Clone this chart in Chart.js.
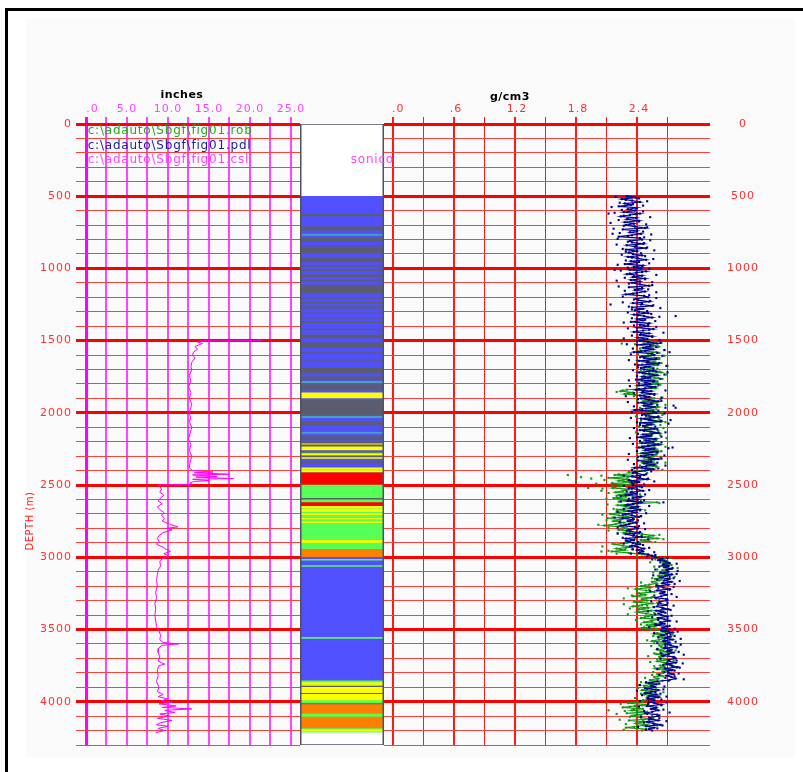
<!DOCTYPE html>
<html>
<head>
<meta charset="utf-8">
<script src="https://cdn.jsdelivr.net/npm/chart.js@4/dist/chart.umd.min.js"></script>
<style>
  body { margin: 0; width: 803px; height: 772px; overflow: hidden; position: relative; background: #fff; }
  #frame { position: absolute; left: 5px; top: 8px; width: 840px; height: 800px; border-left: 3px solid #000; border-top: 3px solid #000; }
  #panel { position: absolute; left: 26px; top: 19px; width: 769px; height: 738px; background: #fafafa; }
  canvas { position: absolute; }
</style>
</head>
<body>
<div id="frame"></div>
<div id="panel"></div>
<canvas id="leftTrack" width="312" height="670" style="left:0;top:80px"></canvas>
<canvas id="rightTrack" width="419" height="670" style="left:384px;top:80px"></canvas>
<canvas id="lithTrack" width="96" height="621" style="left:300px;top:124px"></canvas>
<script>
// depth axis (m)
const depthLabels = [0, 500, 1000, 1500, 2000, 2500, 3000, 3500, 4000];
const depthMax = 4300;

// left track: inches
const inchGrid = [0, 2.5, 5, 7.5, 10, 12.5, 15, 17.5, 20, 22.5, 25];
const inchTickValues = [0, 5, 10, 15, 20, 25];
const inchTickText = ["\u2002\u2002.0", "5.0", "10.0", "15.0", "20.0", "25.0"];

// right track: g/cm3
const gramGrid = [0, 0.3, 0.6, 0.9, 1.2, 1.5, 1.8, 2.1, 2.4, 2.7];
const gramTickValues = [0, 0.6, 1.2, 1.8, 2.4];
const gramTickText = ["\u2002.0", ".6", "1.2", "1.8", "2.4"];

// fig01.csl (sonico), inches
const cslDepth = [
  1500, 1502, 1510, 1520, 1540, 1560, 1580, 1600, 1620, 1650,
  1680, 1700, 1740, 1780, 1820, 1860, 1900, 1940, 1980, 2000,
  2030, 2060, 2100, 2140, 2180, 2220, 2260, 2300, 2340, 2380,
  2400, 2410, 2415, 2425, 2430, 2440, 2445, 2455, 2460, 2470,
  2475, 2485, 2495, 2500, 2510, 2530, 2550, 2570, 2590, 2610,
  2630, 2650, 2670, 2690, 2710, 2730, 2750, 2770, 2790, 2800,
  2810, 2830, 2850, 2870, 2890, 2910, 2930, 2950, 2960, 2975,
  2990, 3010, 3030, 3060, 3090, 3120, 3160, 3200, 3240, 3280,
  3320, 3360, 3400, 3440, 3480, 3510, 3540, 3570, 3590, 3600,
  3610, 3630, 3660, 3690, 3720, 3740, 3750, 3780, 3820, 3860,
  3900, 3930, 3950, 3965, 3980, 3995, 4005, 4015, 4030, 4040,
  4050, 4060, 4075, 4085, 4100, 4115, 4130, 4145, 4160, 4170,
  4185, 4200, 4215
];
const cslValue = [
  21.5, 14.0, 13.6, 14.2, 13.3, 13.6, 13.1, 13.0, 13.3, 12.9,
  12.8, 12.9, 12.6, 12.8, 12.5, 12.8, 12.6, 12.9, 12.7, 12.5,
  12.8, 12.6, 12.9, 12.7, 12.5, 12.8, 12.6, 12.9, 12.7, 12.6,
  13.0, 15.5, 13.2, 17.5, 13.0, 16.0, 13.4, 18.0, 13.0, 15.0,
  13.2, 12.7, 12.8, 8.8, 9.0, 9.2, 9.0, 9.5, 9.1, 8.8,
  9.3, 8.7, 9.0, 9.5, 9.2, 9.6, 9.3, 10.2, 11.2, 9.8,
  10.5, 9.4, 8.9, 8.7, 8.9, 8.6, 9.4, 9.9, 10.3, 9.5,
  10.1, 9.3, 9.0, 9.1, 8.8, 8.7, 8.6, 8.7, 8.5, 8.6,
  8.4, 8.5, 8.4, 8.5, 8.6, 8.9, 9.1, 9.0, 9.4, 11.3,
  9.2, 8.9, 8.8, 9.0, 8.8, 9.6, 8.9, 8.7, 8.8, 8.6,
  8.9, 8.7, 9.4, 8.8, 9.9, 9.2, 10.5, 8.9, 11.0, 9.3,
  12.9, 9.6, 10.8, 9.0, 10.2, 8.7, 10.5, 9.1, 8.6, 10.0,
  8.8, 9.6, 8.5
];

// fig01.pdl, g/cm3, samples every 10 m from 500 m (one row = 100 m)
const pdlStart = 500, pdlStep = 10;
const pdlValue = [
  2.30, 2.39, 2.25, 2.35, 2.43, 2.28, 2.34, 2.22, 2.40, 2.31,
  2.38, 2.27, 2.43, 2.33, 2.24, 2.39, 2.30, 2.42, 2.28, 2.37,
  2.29, 2.38, 2.48, 2.26, 2.40, 2.33, 2.44, 2.35, 2.22, 2.43,
  2.45, 2.33, 2.35, 2.46, 2.30, 2.38, 2.49, 2.29, 2.40, 2.32,
  2.36, 2.45, 2.31, 2.41, 2.49, 2.34, 2.40, 2.28, 2.46, 2.37,
  2.44, 2.33, 2.49, 2.39, 2.30, 2.45, 2.36, 2.48, 2.34, 2.43,
  2.35, 2.43, 2.52, 2.32, 2.45, 2.38, 2.48, 2.40, 2.29, 2.47,
  2.51, 2.39, 2.41, 2.52, 2.36, 2.44, 2.55, 2.35, 2.46, 2.38,
  2.42, 2.51, 2.37, 2.47, 2.55, 2.40, 2.46, 2.34, 2.52, 2.43,
  2.51, 2.40, 2.56, 2.46, 2.37, 2.52, 2.43, 2.55, 2.41, 2.50,
  2.43, 2.51, 2.60, 2.40, 2.53, 2.46, 2.56, 2.48, 2.37, 2.55,
  2.57, 2.45, 2.47, 2.58, 2.42, 2.50, 2.61, 2.41, 2.52, 2.44,
  2.47, 2.56, 2.42, 2.52, 2.60, 2.45, 2.51, 2.39, 2.57, 2.48,
  2.53, 2.42, 2.58, 2.48, 2.39, 2.54, 2.45, 2.57, 2.43, 2.52,
  2.44, 2.52, 2.61, 2.41, 2.54, 2.47, 2.57, 2.49, 2.38, 2.56,
  2.59, 2.47, 2.49, 2.60, 2.44, 2.52, 2.63, 2.43, 2.54, 2.46,
  2.48, 2.57, 2.43, 2.53, 2.61, 2.46, 2.52, 2.40, 2.58, 2.49,
  2.56, 2.45, 2.61, 2.51, 2.42, 2.57, 2.48, 2.60, 2.46, 2.55,
  2.44, 2.52, 2.61, 2.41, 2.54, 2.47, 2.57, 2.49, 2.38, 2.56,
  2.48, 2.38, 2.40, 2.47, 2.35, 2.41, 2.50, 2.34, 2.42, 2.36,
  2.36, 2.43, 2.32, 2.40, 2.46, 2.34, 2.39, 2.29, 2.44, 2.36,
  2.41, 2.31, 2.44, 2.36, 2.29, 2.41, 2.34, 2.43, 2.32, 2.39,
  2.28, 2.35, 2.42, 2.26, 2.36, 2.31, 2.39, 2.32, 2.24, 2.38,
  2.41, 2.32, 2.33, 2.42, 2.29, 2.36, 2.45, 2.29, 2.37, 2.31,
  2.36, 2.43, 2.35, 2.41, 2.47, 2.40, 2.46, 2.42, 2.51, 2.55,
  2.58, 2.65, 2.61, 2.68, 2.72, 2.66, 2.71, 2.67, 2.74, 2.69,
  2.71, 2.65, 2.74, 2.68, 2.63, 2.72, 2.67, 2.74, 2.65, 2.71,
  2.61, 2.66, 2.72, 2.60, 2.67, 2.63, 2.69, 2.64, 2.58, 2.69,
  2.69, 2.62, 2.63, 2.69, 2.60, 2.65, 2.71, 2.59, 2.66, 2.61,
  2.64, 2.70, 2.61, 2.67, 2.72, 2.63, 2.67, 2.59, 2.70, 2.65,
  2.72, 2.66, 2.75, 2.69, 2.64, 2.73, 2.68, 2.75, 2.66, 2.72,
  2.68, 2.73, 2.79, 2.67, 2.74, 2.70, 2.76, 2.71, 2.65, 2.76,
  2.78, 2.71, 2.72, 2.78, 2.69, 2.74, 2.80, 2.68, 2.75, 2.70,
  2.71, 2.76, 2.69, 2.74, 2.78, 2.72, 2.60, 2.52, 2.59, 2.54,
  2.58, 2.50, 2.61, 2.54, 2.48, 2.59, 2.52, 2.61, 2.51, 2.57,
  2.52, 2.57, 2.64, 2.50, 2.59, 2.54, 2.61, 2.55, 2.48, 2.60,
  2.61, 2.52, 2.54, 2.61, 2.50, 2.56, 2.63, 2.49, 2.57, 2.52,
  2.55
];
// fig01.pdl, in-between samples (505 m, 515 m, ...), drawn as dots
const pdlDotStart = 505, pdlDotStep = 10;
const pdlDotValue = [
  2.19, 2.42, 2.29, 2.50, 2.23, 2.36, 2.46, 2.15, 2.39, 2.25,
  2.46, 2.18, 2.39, 2.27, 2.53, 2.31, 2.22, 2.42, 2.14, 2.49,
  2.27, 2.50, 2.17, 2.40, 2.46, 2.23, 2.54, 2.31, 2.47, 2.21,
  2.53, 2.31, 2.47, 2.20, 2.39, 2.50, 2.26, 2.57, 2.29, 2.44,
  2.25, 2.48, 2.35, 2.56, 2.29, 2.42, 2.52, 2.21, 2.45, 2.31,
  2.52, 2.24, 2.45, 2.33, 2.59, 2.37, 2.28, 2.48, 2.20, 2.55,
  2.32, 2.55, 2.22, 2.45, 2.51, 2.28, 2.59, 2.36, 2.52, 2.26,
  2.59, 2.37, 2.53, 2.26, 2.45, 2.56, 2.32, 2.63, 2.35, 2.50,
  2.31, 2.54, 2.41, 2.62, 2.35, 2.48, 2.58, 2.27, 2.51, 2.37,
  2.59, 2.31, 2.52, 2.40, 2.66, 2.44, 2.35, 2.55, 2.27, 2.62,
  2.40, 2.63, 2.30, 2.53, 2.59, 2.36, 2.67, 2.44, 2.60, 2.34,
  2.65, 2.43, 2.59, 2.32, 2.51, 2.62, 2.38, 2.69, 2.41, 2.56,
  2.36, 2.59, 2.46, 2.67, 2.40, 2.53, 2.63, 2.32, 2.56, 2.42,
  2.61, 2.33, 2.54, 2.42, 2.68, 2.46, 2.37, 2.57, 2.29, 2.64,
  2.41, 2.64, 2.31, 2.54, 2.60, 2.37, 2.68, 2.45, 2.61, 2.35,
  2.67, 2.45, 2.61, 2.34, 2.53, 2.64, 2.40, 2.71, 2.43, 2.58,
  2.37, 2.60, 2.47, 2.68, 2.41, 2.54, 2.64, 2.33, 2.57, 2.43,
  2.64, 2.36, 2.57, 2.45, 2.71, 2.49, 2.40, 2.60, 2.32, 2.67,
  2.41, 2.64, 2.31, 2.54, 2.60, 2.37, 2.68, 2.45, 2.61, 2.35,
  2.54, 2.36, 2.49, 2.27, 2.43, 2.51, 2.32, 2.57, 2.35, 2.47,
  2.27, 2.45, 2.35, 2.52, 2.30, 2.40, 2.48, 2.24, 2.43, 2.32,
  2.47, 2.24, 2.41, 2.31, 2.52, 2.35, 2.27, 2.43, 2.21, 2.49,
  2.26, 2.44, 2.18, 2.36, 2.41, 2.23, 2.47, 2.29, 2.42, 2.21,
  2.48, 2.30, 2.43, 2.21, 2.37, 2.45, 2.26, 2.51, 2.29, 2.41,
  2.27, 2.46, 2.33, 2.52, 2.36, 2.45, 2.57, 2.34, 2.58, 2.50,
  2.70, 2.55, 2.67, 2.63, 2.79, 2.66, 2.62, 2.75, 2.58, 2.80,
  2.63, 2.79, 2.56, 2.72, 2.76, 2.60, 2.82, 2.66, 2.77, 2.59,
  2.76, 2.61, 2.72, 2.53, 2.66, 2.74, 2.57, 2.79, 2.59, 2.70,
  2.54, 2.70, 2.61, 2.76, 2.57, 2.66, 2.73, 2.51, 2.68, 2.58,
  2.74, 2.55, 2.70, 2.61, 2.79, 2.64, 2.58, 2.72, 2.52, 2.77,
  2.64, 2.80, 2.57, 2.73, 2.77, 2.61, 2.83, 2.67, 2.78, 2.60,
  2.83, 2.68, 2.79, 2.60, 2.73, 2.81, 2.64, 2.86, 2.66, 2.77,
  2.63, 2.79, 2.70, 2.85, 2.66, 2.75, 2.82, 2.60, 2.77, 2.67,
  2.81, 2.62, 2.77, 2.68, 2.86, 2.71, 2.49, 2.62, 2.43, 2.67,
  2.48, 2.66, 2.40, 2.58, 2.63, 2.45, 2.69, 2.51, 2.64, 2.43,
  2.69, 2.51, 2.64, 2.42, 2.58, 2.66, 2.47, 2.72, 2.50, 2.62,
  2.44, 2.62, 2.52, 2.69, 2.47, 2.57, 2.65, 2.41, 2.60, 2.49
];
const pdlOutDepth = [620, 760, 1010, 1250, 1330, 1580, 1720, 1950, 1965, 2050, 2240, 2620];
const pdlOutValue = [2.12, 2.16, 2.18, 2.14, 2.78, 2.72, 2.70, 2.76, 2.78, 2.73, 2.75, 2.66];

// fig01.rob, g/cm3, samples every 10 m from 1500 m (one row = 100 m)
const robStart = 1500, robStep = 10;
const robValue = [
  2.51, 2.58, 2.47, 2.55, 2.61, 2.49, 2.54, 2.44, 2.59, 2.51,
  2.57, 2.48, 2.61, 2.53, 2.46, 2.58, 2.51, 2.60, 2.49, 2.56,
  2.50, 2.57, 2.64, 2.48, 2.58, 2.53, 2.61, 2.54, 2.45, 2.60,
  2.59, 2.50, 2.52, 2.58, 2.30, 2.24, 2.36, 2.28, 2.47, 2.51,
  2.57, 2.51, 2.46, 2.59, 2.54, 2.48, 2.61, 2.51, 2.56, 2.47,
  2.60, 2.51, 2.52, 2.61, 2.48, 2.55, 2.64, 2.48, 2.56, 2.50,
  2.50, 2.58, 2.46, 2.55, 2.62, 2.48, 2.54, 2.45, 2.59, 2.52,
  2.49, 2.56, 2.63, 2.47, 2.57, 2.52, 2.60, 2.53, 2.44, 2.59,
  2.56, 2.47, 2.60, 2.52, 2.45, 2.57, 2.50, 2.59, 2.48, 2.55,
  2.45, 2.32, 2.40, 2.18, 2.36, 2.12, 2.30, 2.22, 2.38, 2.15,
  2.30, 2.23, 2.16, 2.32, 2.26, 2.19, 2.35, 2.22, 2.29, 2.17,
  2.36, 2.24, 2.60, 2.37, 2.21, 2.29, 2.40, 2.20, 2.31, 2.23,
  2.14, 2.22, 2.31, 2.11, 2.24, 2.17, 2.27, 2.19, 2.08, 2.26,
  2.30, 2.22, 2.34, 2.27, 2.45, 2.56, 2.48, 2.60, 2.44, 2.52,
  2.30, 2.18, 2.26, 2.35, 2.20, 2.28, 2.15, 2.32, 2.45, 2.55,
  2.60, 2.67, 2.63, 2.70, 2.66, 2.72, 2.64, 2.69, 2.73, 2.65,
  2.68, 2.63, 2.70, 2.61, 2.65, 2.58, 2.62, 2.55, 2.59, 2.52,
  2.44, 2.53, 2.39, 2.49, 2.57, 2.42, 2.48, 2.36, 2.54, 2.45,
  2.50, 2.39, 2.55, 2.45, 2.36, 2.51, 2.42, 2.54, 2.40, 2.49,
  2.58, 2.51, 2.44, 2.60, 2.54, 2.47, 2.63, 2.50, 2.57, 2.45,
  2.59, 2.64, 2.71, 2.57, 2.66, 2.61, 2.68, 2.62, 2.55, 2.67,
  2.71, 2.62, 2.64, 2.71, 2.60, 2.66, 2.73, 2.59, 2.67, 2.62,
  2.64, 2.70, 2.60, 2.67, 2.73, 2.63, 2.67, 2.58, 2.71, 2.65,
  2.66, 2.60, 2.64, 2.57, 2.61, 2.53, 2.58, 2.49, 2.54, 2.47,
  2.56, 2.50, 2.45, 2.58, 2.53, 2.47, 2.60, 2.50, 2.55, 2.46,
  2.45, 2.31, 2.51, 2.38, 2.26, 2.46, 2.35, 2.50, 2.30, 2.44,
  2.35, 2.44, 2.54, 2.32, 2.47, 2.39, 2.50, 2.41, 2.29, 2.49,
  2.45
];
// fig01.rob, in-between samples (1505 m, 1515 m, ...), drawn as dots
const robDotStart = 1505, robDotStep = 10;
const robDotValue = [
  2.46, 2.64, 2.38, 2.56, 2.61, 2.43, 2.67, 2.49, 2.62, 2.41,
  2.67, 2.49, 2.62, 2.40, 2.56, 2.64, 2.45, 2.70, 2.48, 2.60,
  2.44, 2.62, 2.52, 2.69, 2.47, 2.57, 2.65, 2.41, 2.60, 2.49,
  2.63, 2.40, 2.57, 2.47, 2.26, 2.20, 2.31, 2.38, 2.37, 2.65,
  2.63, 2.40, 2.57, 2.47, 2.68, 2.51, 2.43, 2.59, 2.37, 2.65,
  2.47, 2.65, 2.39, 2.57, 2.62, 2.44, 2.68, 2.50, 2.63, 2.42,
  2.66, 2.48, 2.61, 2.39, 2.55, 2.63, 2.44, 2.69, 2.47, 2.59,
  2.43, 2.61, 2.51, 2.68, 2.46, 2.56, 2.64, 2.40, 2.59, 2.48,
  2.63, 2.40, 2.57, 2.47, 2.68, 2.51, 2.43, 2.59, 2.37, 2.65,
  2.38, 2.50, 2.22, 2.05, 2.31, 2.42, 2.08, 2.27, 2.16, 2.33,
  2.16, 2.39, 2.06, 2.29, 2.35, 2.12, 2.43, 2.20, 2.36, 2.10,
  2.44, 2.22, 2.62, 2.11, 2.30, 2.41, 2.17, 2.48, 2.20, 2.35,
  2.06, 2.29, 2.16, 2.37, 2.10, 2.23, 2.33, 2.02, 2.26, 2.12,
  2.40, 2.12, 2.33, 2.21, 2.62, 2.44, 2.38, 2.66, 2.30, 2.58,
  2.16, 2.39, 2.06, 2.29, 2.35, 2.12, 2.43, 2.20, 2.58, 2.40,
  2.73, 2.58, 2.69, 2.53, 2.66, 2.74, 2.57, 2.80, 2.60, 2.70,
  2.56, 2.74, 2.62, 2.77, 2.55, 2.64, 2.70, 2.44, 2.60, 2.48,
  2.59, 2.31, 2.52, 2.40, 2.66, 2.44, 2.35, 2.55, 2.27, 2.62,
  2.37, 2.60, 2.27, 2.50, 2.56, 2.33, 2.64, 2.41, 2.57, 2.31,
  2.66, 2.48, 2.61, 2.39, 2.55, 2.63, 2.44, 2.69, 2.47, 2.59,
  2.53, 2.69, 2.60, 2.75, 2.56, 2.65, 2.72, 2.50, 2.67, 2.57,
  2.73, 2.54, 2.69, 2.60, 2.78, 2.63, 2.57, 2.71, 2.51, 2.76,
  2.60, 2.76, 2.53, 2.69, 2.73, 2.57, 2.79, 2.62, 2.74, 2.56,
  2.72, 2.55, 2.66, 2.48, 2.60, 2.65, 2.44, 2.61, 2.42, 2.56,
  2.41, 2.59, 2.49, 2.66, 2.44, 2.54, 2.62, 2.38, 2.57, 2.46,
  2.52, 2.24, 2.45, 2.33, 2.59, 2.37, 2.28, 2.48, 2.20, 2.55,
  2.33, 2.56, 2.23, 2.46, 2.52, 2.29, 2.60, 2.37, 2.53, 2.27
];
const robOutDepth = [1520, 2430, 2445, 2455, 2470, 2490, 2520, 2540, 2960, 4010, 4060];
const robOutValue = [2.25, 1.72, 1.85, 1.95, 1.80, 2.00, 1.92, 2.05, 2.05, 2.10, 2.12];

// lithology column (top, base, code)
const lithTop = [
  0, 500, 625, 712, 765, 790, 840, 858, 928, 980, 1010, 1045, 1078, 1115, 1203, 1235,
  1265, 1307, 1340, 1370, 1420, 1460, 1515, 1582, 1632, 1690, 1750, 1783, 1805, 1862,
  1911, 2026, 2062, 2137, 2165, 2200, 2215, 2222, 2236, 2268, 2278, 2285, 2298, 2310,
  2340, 2380, 2395, 2400, 2416, 2500, 2592, 2622, 2648, 2668, 2695, 2730, 2755, 2883,
  2945, 3000, 3015, 3057, 3555, 3856, 3868, 3893, 3900, 3943, 3950, 4013, 4020, 4106,
  4195, 4215
];
const lithBase = [
  500, 2416, 636, 735, 770, 815, 846, 893, 955, 987, 1016, 1058, 1084, 1170, 1208, 1240,
  1275, 1312, 1345, 1378, 1425, 1482, 1545, 1588, 1637, 1724, 1772, 1789, 1842, 1897,
  2015, 2031, 2085, 2141, 2188, 2215, 2222, 2236, 2257, 2275, 2283, 2295, 2305, 2316,
  2346, 2395, 2400, 2410, 2500, 2945, 2598, 2645, 2660, 2685, 2705, 2735, 2760, 2898,
  3000, 3856, 3020, 3063, 3562, 4215, 3880, 3900, 3940, 3948, 3988, 4020, 4082, 4182,
  4205, 4300
];
const lithCode = [
  "branco", "azul", "cinza", "cinza", "ciano", "cinza", "cinza", "cinza", "cinza", "cinza", "cinza", "cinza", "cinza", "cinza", "cinza", "cinza",
  "cinza", "cinza", "cinza", "cinza", "cinza", "cinza", "cinza", "cinza", "cinza", "cinza", "cinza", "ciano", "cinza", "amarelo",
  "cinza", "ciano", "cinza", "ciano", "cinza", "cinza", "amarelo", "cinza", "amarelo", "cinza", "verde", "amarelo", "cinza", "amarelo",
  "cinza", "amarelo", "verde", "amarelo", "vermelho", "verde", "cinza", "vermelho", "amarelo", "amarelo", "amarelo", "amarelo", "amarelo", "amarelo",
  "laranja", "azul", "verde", "verde", "verde", "verde", "amarelo", "cinza", "amarelo", "cinza", "amarelo", "cinza", "laranja", "laranja",
  "amarelo", "branco"
];
const lithColor = {
  branco: "#ffffff", azul: "#5050ff", cinza: "#5c5c70", ciano: "#40c0a8",
  amarelo: "#ffff00", verde: "#55ff55", vermelho: "#ff0000", laranja: "#ff8000"
};

Chart.defaults.font.family = '"DejaVu Sans", sans-serif';
Chart.defaults.font.size = 11;

function setTicks(values) {
  return (scale) => { scale.ticks = values.map((v) => ({ value: v })); };
}
function depthTicks() {
  let list = [];
  for (let d = 0; d <= depthMax; d += 100) list.push(d);
  return list;
}
function depthLabel(v) {
  return depthLabels.includes(v) ? String(v) : "";
}
function noPad(size) {
  return (scale) => {
    if (size.height) scale.height = size.height;
    if (size.width) scale.width = size.width;
    scale.paddingLeft = 0; scale.paddingRight = 0;
    scale.paddingTop = 0; scale.paddingBottom = 0;
  };
}
function depthGrid(tickLength) {
  return {
    color: (c) => (c.tick && c.tick.value % 500 === 0 ? "#ff0000" : "#ff4040"),
    lineWidth: (c) => (c.tick && c.tick.value % 500 === 0 ? 3 : 1),
    tickLength: tickLength,
  };
}
//regularly sampled log -> {x, y} points
function logPoints(values, start, step) {
  return values.map((v, i) => ({ x: v, y: start + i * step }));
}

// the log font is wide and thin: spread the letters a little
const wideText = {
  id: "wideText",
  beforeLayout(chart) { chart.ctx.letterSpacing = "1px"; },
  beforeDraw(chart) { chart.ctx.letterSpacing = "1px"; },
};

//text drawn over the left track: file names, unit and depth title
const leftNotes = {
  id: "leftNotes",
  afterDraw(chart) {
    const ctx = chart.ctx, x = chart.scales.x, y = chart.scales.y;
    ctx.save();
    ctx.textBaseline = "middle";
    ctx.font = '12px "DejaVu Sans"';
    ctx.letterSpacing = "0.8px";
    const files = ["c:\\adauto\\Sbgf\\fig01.rob", "c:\\adauto\\Sbgf\\fig01.pdl", "c:\\adauto\\Sbgf\\fig01.csl"];
    const colors = ["#22aa22", "#2020a0", "#ff44ff"];
    const rows = [50, 150, 250];
    files.forEach((f, i) => {
      ctx.fillStyle = colors[i];
      ctx.fillText(f, x.getPixelForValue(0.2), y.getPixelForValue(rows[i]));
    });
    ctx.letterSpacing = "0.5px";
    ctx.fillStyle = "#000";
    ctx.font = 'bold 11px "DejaVu Sans"';
    ctx.textAlign = "center";
    ctx.fillText("inches", x.getPixelForValue(11.7), 15);
    ctx.translate(30, 441);
    ctx.rotate(-Math.PI / 2);
    ctx.fillStyle = "#ff2020";
    ctx.font = '10px "DejaVu Sans"';
    ctx.fillText("DEPTH (m)", 0, 0);
    ctx.restore();
  },
};

const rightNotes = {
  id: "rightNotes",
  afterDraw(chart) {
    const ctx = chart.ctx;
    ctx.save();
    ctx.letterSpacing = "0.5px";
    ctx.fillStyle = "#000";
    ctx.font = 'bold 11px "DejaVu Sans"';
    ctx.textAlign = "center";
    ctx.textBaseline = "middle";
    ctx.fillText("g/cm3", chart.scales.x.getPixelForValue(1.15), 17);
    ctx.restore();
  },
};

const lithFrame = {
  id: "lithFrame",
  afterDraw(chart) {
    const ctx = chart.ctx, a = chart.chartArea;
    ctx.save();
    ctx.strokeStyle = "#505060";
    ctx.lineWidth = 1.5;
    ctx.strokeRect(a.left + 0.75, a.top, a.right - a.left - 1.5, a.bottom - a.top);
    ctx.fillStyle = "#ff44ff";
    ctx.font = '12px "DejaVu Sans"';
    ctx.letterSpacing = "0.8px";
    ctx.textAlign = "right";
    ctx.textBaseline = "middle";
    ctx.fillText("sonico", 94, chart.scales.y.getPixelForValue(250));
    ctx.restore();
  },
};

new Chart(document.getElementById("leftTrack"), {
  type: "scatter",
  data: {
    datasets: [
      {
        label: "csl",
        data: cslDepth.map((d, i) => ({ x: cslValue[i], y: d })),
        showLine: true,
        borderColor: "#ff00ff",
        borderWidth: 1,
        pointRadius: 0,
      },
    ],
  },
  options: {
    responsive: false,
    animation: false,
    layout: { autoPadding: false, padding: { top: 0, left: 0, right: 12, bottom: 5 } },
    plugins: { legend: { display: false }, tooltip: { enabled: false } },
    scales: {
      x: {
        type: "linear",
        position: "top",
        min: 0,
        max: 26.1,
        afterBuildTicks: setTicks(inchGrid),
        afterFit: noPad({ height: 44 }),
        grid: {
          color: (c) => (c.tick && c.tick.value === 0 ? "#ff00ff" : "#ff44ff"),
          lineWidth: (c) => (c.tick && c.tick.value === 0 ? 3 : 2),
          tickLength: 7,
        },
        border: { display: false },
        ticks: {
          autoSkip: false,
          maxRotation: 0,
          padding: 1,
          color: "#ff44ff",
          callback: (v) => {
            let i = inchTickValues.indexOf(v);
            return i < 0 ? "" : inchTickText[i];
          },
        },
      },
      y: {
        type: "linear",
        position: "left",
        reverse: true,
        min: 0,
        max: depthMax,
        afterBuildTicks: setTicks(depthTicks()),
        afterFit: noPad({ width: 86 }),
        grid: depthGrid(10),
        border: { display: false },
        ticks: { autoSkip: false, padding: 4, color: "#ff3030", callback: depthLabel },
      },
    },
  },
  plugins: [wideText, leftNotes],
});

const densityPoint = { pointStyle: "rect", pointRadius: 1.5, pointBorderWidth: 0 };
const pdlColor = "#000090", robColor = "#109910";

new Chart(document.getElementById("rightTrack"), {
  type: "scatter",
  data: {
    datasets: [
      {
        label: "pdl",
        data: logPoints(pdlValue, pdlStart, pdlStep),
        showLine: true,
        borderColor: pdlColor,
        backgroundColor: pdlColor,
        borderWidth: 1.2,
        ...densityPoint,
      },
      {
        label: "pdl-dots",
        data: logPoints(pdlDotValue, pdlDotStart, pdlDotStep),
        backgroundColor: pdlColor,
        ...densityPoint,
      },
      {
        label: "rob",
        data: logPoints(robValue, robStart, robStep),
        showLine: true,
        borderColor: robColor,
        backgroundColor: robColor,
        borderWidth: 1.2,
        ...densityPoint,
      },
      {
        label: "rob-dots",
        data: logPoints(robDotValue, robDotStart, robDotStep),
        backgroundColor: robColor,
        ...densityPoint,
      },
      {
        label: "pdl-scatter",
        data: pdlOutValue.map((v, i) => ({ x: v, y: pdlOutDepth[i] })),
        backgroundColor: pdlColor,
        ...densityPoint,
      },
      {
        label: "rob-scatter",
        data: robOutValue.map((v, i) => ({ x: v, y: robOutDepth[i] })),
        backgroundColor: robColor,
        ...densityPoint,
      },
    ],
  },
  options: {
    responsive: false,
    animation: false,
    layout: { autoPadding: false, padding: { top: 0, left: 0, right: 0, bottom: 5 } },
    plugins: { legend: { display: false }, tooltip: { enabled: false } },
    scales: {
      x: {
        type: "linear",
        position: "top",
        min: -0.0885,
        max: 3.069,
        afterBuildTicks: setTicks(gramGrid),
        afterFit: noPad({ height: 44 }),
        grid: {
          color: "#ff1a1a",
          lineWidth: (c) => (c.tick && gramTickValues.includes(c.tick.value) ? 2 : 1),
          tickLength: 7,
        },
        border: { display: false },
        ticks: {
          autoSkip: false,
          maxRotation: 0,
          padding: 1,
          labelOffset: 2,
          color: "#ff3030",
          callback: (v) => {
            let i = gramTickValues.indexOf(v);
            return i < 0 ? "" : gramTickText[i];
          },
        },
      },
      y: {
        type: "linear",
        position: "right",
        reverse: true,
        min: 0,
        max: depthMax,
        afterBuildTicks: setTicks(depthTicks()),
        afterFit: noPad({ width: 98 }),
        grid: depthGrid(5),
        border: { display: false },
        ticks: { autoSkip: false, crossAlign: "center", padding: 17, color: "#ff3030", callback: depthLabel },
      },
    },
  },
  plugins: [wideText, rightNotes],
});

new Chart(document.getElementById("lithTrack"), {
  type: "bar",
  data: {
    labels: ["lito"],
    datasets: [
      {
        data: lithTop.map((t, i) => ({ x: "lito", y: [t, lithBase[i]] })),
        backgroundColor: lithCode.map((k) => lithColor[k]),
        borderWidth: 0,
        barPercentage: 1,
        categoryPercentage: 1,
      },
    ],
  },
  options: {
    responsive: false,
    animation: false,
    layout: { autoPadding: false, padding: { right: 12 } },
    plugins: { legend: { display: false }, tooltip: { enabled: false } },
    scales: {
      x: { display: false },
      y: { display: false, reverse: true, min: 0, max: depthMax },
    },
  },
  plugins: [lithFrame],
});
</script>
</body>
</html>
